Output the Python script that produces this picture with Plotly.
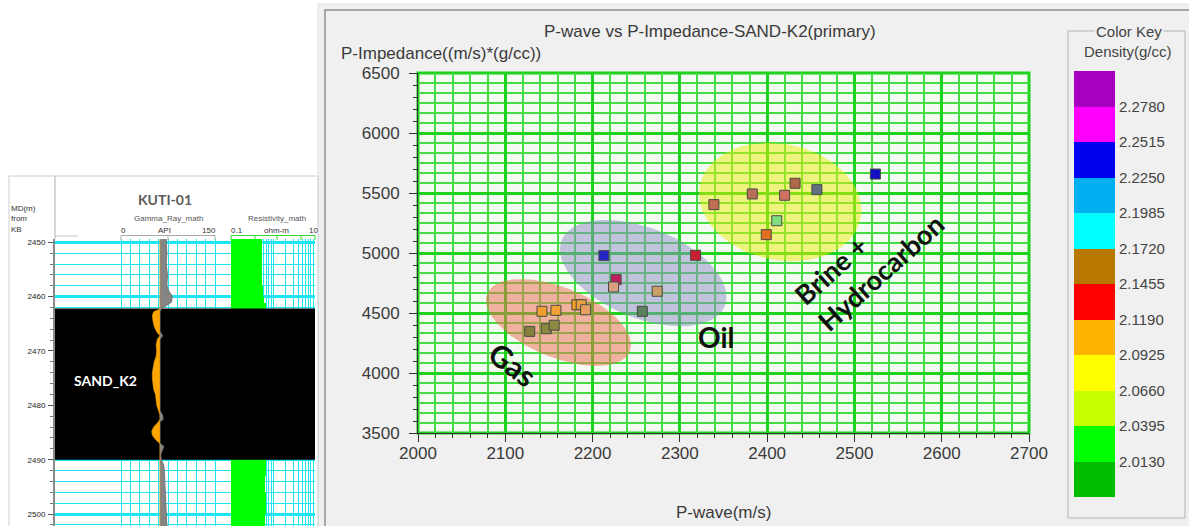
import numpy as np
import plotly.graph_objects as go

W, H = 1189, 526

# ======================= DATA =======================
# --- crossplot: P-wave (m/s) vs P-Impedance ((m/s)*(g/cc)), SAND_K2 samples ---
pwave_ms = [2128, 2147, 2156, 2142, 2158, 2182, 2187, 2192,
            2213, 2227, 2224, 2274, 2257, 2318,
            2339, 2383, 2420, 2432, 2457, 2411, 2399, 2524]
p_impedance = [4347, 4369, 4398, 4514, 4522, 4569, 4569, 4527,
               4978, 4778, 4717, 4681, 4514, 4981,
               5403, 5492, 5481, 5581, 5528, 5269, 5153, 5658]
point_colors = ['#84803c', '#8a883e', '#8c8a40', '#f0a030', '#f2a234', '#f0a024', '#e8a040', '#e8a060',
                '#2424c4', '#c02060', '#d8a080', '#c8a068', '#5a8060', '#c82030',
                '#c07050', '#b87058', '#d07060', '#b06848', '#607080', '#80e080', '#e07020', '#1010c0']

x_range = [2000, 2700]
y_range = [3500, 6500]
x_tick_vals = [2000, 2100, 2200, 2300, 2400, 2500, 2600, 2700]
y_tick_vals = [3500, 4000, 4500, 5000, 5500, 6000, 6500]

# --- interpretation zones (centre in data units) ---
zone_names = ['Gas', 'Oil', 'Brine +<br>Hydrocarbon']
zone_center_pwave = [2161, 2258, 2415]
zone_center_pimp = [4421, 4833, 5425]
zone_label_pwave = [2109, 2341, 2517]
zone_label_pimp = [4075, 4300, 4950]

# --- colour key (density g/cc), bottom -> top ---
key_labels = ['2.0130', '2.0395', '2.0660', '2.0925', '2.1190', '2.1455',
              '2.1720', '2.1985', '2.2250', '2.2515', '2.2780']
key_colors = ['#00bb00', '#00ff00', '#c8ff00', '#ffff00', '#ffb400', '#ff0000',
              '#b87800', '#00ffff', '#00b0f0', '#0000f0', '#ff00ff', '#a800c0']

# --- well log KUTI-01 ---
well_name = 'KUTI-01'
sand_name = 'SAND_K2'
sand_top, sand_base = 2462.2, 2490.0
depth_top, depth_bottom = 2449.4, 2502.2
depth_ticks = [2450, 2460, 2470, 2480, 2490, 2500]

gr_depth = [2449.4, 2452, 2454, 2456, 2458, 2459, 2460, 2461, 2461.8, 2462.3,
            2462.8, 2463.5, 2464.5, 2465.5, 2466.5, 2467.2, 2467.8, 2469, 2470, 2471,
            2472, 2473, 2474, 2475, 2476, 2477, 2478, 2479, 2480, 2481,
            2481.8, 2482.5, 2483, 2484, 2484.8, 2485.5, 2486.3, 2487, 2487.6, 2488.3,
            2489, 2490, 2491, 2492, 2494, 2496, 2498, 2500, 2502.2]
gr_api = [72, 73, 72, 74, 73, 76, 82, 80, 70, 63,
          52, 50, 51, 53, 57, 66, 58, 56, 57, 56,
          53, 51, 50, 50, 51, 52, 55, 56, 57, 60,
          66, 67, 60, 52, 49, 50, 55, 62, 68, 65,
          63, 64, 68, 69, 70, 71, 72, 73, 73]
gr_cutoff = 62

res_top = [2449.4, 2452, 2455, 2458, 2460, 2461.2, 2462.2, 2462.6, 2462.9, 2463.6,
           2465.5, 2466.0, 2468.0, 2469.0, 2469.8, 2470.3, 2472.4, 2473.3, 2474.5, 2475.4,
           2475.9, 2477.2, 2479.6, 2480.3, 2481.5, 2483.8, 2485.1, 2487.0, 2490.0, 2493.0,
           2496.0, 2500.0]
res_ohmm = [0.54, 0.55, 0.54, 0.57, 0.62, 0.70, 10, 10, 1.5, 8,
            5, 1.25, 7, 6.8, 5.5, 1.4, 7.5, 7, 7.5, 5.5,
            1.3, 8, 5, 1.25, 0.93, 4.8, 0.85, 0.75, 0.68, 0.66,
            0.68, 0.66]
res_class = ['green', 'green', 'green', 'green', 'green', 'green', 'purple', 'magenta', 'green', 'orange',
             'yellow', 'green', 'red', 'orange', 'yellow', 'green', 'red', 'orange', 'red', 'yellow',
             'green', 'red', 'yellow', 'green', 'green', 'yellow', 'green', 'green', 'green', 'green',
             'green', 'green']

# ======================= STYLE / LAYOUT =======================
class_color = {'green': '#00ff00', 'yellow': '#ffff00', 'orange': '#ffb400',
               'red': '#ff0000', 'magenta': '#ff00ff', 'purple': '#a800c0'}
zone_style = [dict(a=77, b=35, ang=22, fill='rgba(237,110,83,0.52)'),
              dict(a=88, b=45, ang=22, fill='rgba(140,140,195,0.5)'),
              dict(a=82, b=58, ang=12, fill='rgba(232,236,10,0.5)')]
zone_font = [dict(size=30, ang=37, align='center'), dict(size=28, ang=0, align='center'),
             dict(size=27, ang=-42, align='left')]

TICKFONT = dict(family='Liberation Sans, Arial', size=17, color='#3a3a3a')
LABFONT = 'Lato, Open Sans'
GRID_MAJ = '#1fd21f'
GRID_MIN = '#45dc45'
CYAN = '#19e6f5'

# crossplot area in pixels
PX0, PX1, PY0, PY1 = 418, 1029, 73, 433
# key area
KX0, KX1, KY0, KY1 = 1074, 1115, 71, 497
# log tracks
TR0, TR1, TR2 = 55, 231, 315
LOG_TOP = 239
GR_PX0, GR_PX150 = 121, 215


def fx(x):
    return x / W


def fy(y):
    return 1 - y / H


fig = go.Figure()

# ---------- crossplot: zones ----------
kx = (PX1 - PX0) / (x_range[1] - x_range[0])
ky = (PY1 - PY0) / (y_range[1] - y_range[0])
t = np.linspace(0, 2 * np.pi, 120)
for cx, cy, st in zip(zone_center_pwave, zone_center_pimp, zone_style):
    th = np.radians(st['ang'])
    u, v = st['a'] * np.cos(t), st['b'] * np.sin(t)
    dx = u * np.cos(th) - v * np.sin(th)
    dy = u * np.sin(th) + v * np.cos(th)
    fig.add_trace(go.Scatter(x=cx + dx / kx, y=cy - dy / ky, mode='lines', fill='toself',
                             fillcolor=st['fill'], line=dict(width=0), hoverinfo='skip',
                             xaxis='x', yaxis='y', showlegend=False))

# ---------- crossplot: points ----------
fig.add_trace(go.Scatter(x=pwave_ms, y=p_impedance, mode='markers', xaxis='x', yaxis='y2',
                         marker=dict(symbol='square', size=10, color=point_colors,
                                     line=dict(color='#4a4a4a', width=1)),
                         showlegend=False))

# ---------- colour key ----------
nk = len(key_colors)
cs = []
for i, c in enumerate(key_colors):
    cs += [[i / nk, c], [(i + 1) / nk, c]]
fig.add_trace(go.Heatmap(z=[[i] for i in range(nk)], x=[0], y=list(range(nk)),
                         colorscale=cs, zmin=-0.5, zmax=nk - 0.5, showscale=False,
                         xaxis='x3', yaxis='y3', hoverinfo='skip'))

# ---------- well log: sand zone black ----------
gr_lo = (TR0 - GR_PX0) / (GR_PX150 - GR_PX0) * 150
gr_hi = (TR1 - GR_PX0) / (GR_PX150 - GR_PX0) * 150
fig.add_trace(go.Scatter(x=[gr_lo, gr_hi, gr_hi, gr_lo], y=[sand_top, sand_top, sand_base, sand_base],
                         fill='toself', fillcolor='black', mode='lines', line=dict(width=0),
                         xaxis='x4', yaxis='y4', hoverinfo='skip', showlegend=False))
fig.add_trace(go.Scatter(x=[0.1, 10, 10, 0.1], y=[sand_top, sand_top, sand_base, sand_base],
                         fill='toself', fillcolor='black', mode='lines', line=dict(width=0),
                         xaxis='x5', yaxis='y4', hoverinfo='skip', showlegend=False))

# ---------- GR curve ----------
gr_arr = np.array(gr_api, dtype=float)
base = [gr_cutoff] * len(gr_depth)
fig.add_trace(go.Scatter(x=base, y=gr_depth, mode='lines', line=dict(width=0), xaxis='x4', yaxis='y4',
                         hoverinfo='skip', showlegend=False))
fig.add_trace(go.Scatter(x=np.maximum(gr_arr, gr_cutoff), y=gr_depth, mode='lines', fill='tonextx',
                         fillcolor='#858585', line=dict(width=1.2, color='#7a7a7a'),
                         xaxis='x4', yaxis='y4', hoverinfo='skip', showlegend=False))
fig.add_trace(go.Scatter(x=base, y=gr_depth, mode='lines', line=dict(width=0), xaxis='x4', yaxis='y4',
                         hoverinfo='skip', showlegend=False))
fig.add_trace(go.Scatter(x=np.minimum(gr_arr, gr_cutoff), y=gr_depth, mode='lines', fill='tonextx',
                         fillcolor='#ffa500', line=dict(width=0.6, color='#e89a00'),
                         xaxis='x4', yaxis='y4', hoverinfo='skip', showlegend=False))

# ---------- Resistivity fill ----------
res_bottom = res_top[1:] + [depth_bottom]
fig.add_trace(go.Bar(orientation='h',
                     y=[(a + b) / 2 for a, b in zip(res_top, res_bottom)],
                     width=[b - a for a, b in zip(res_top, res_bottom)],
                     x=[r - 0.1 for r in res_ohmm], base=0.1,
                     marker=dict(color=[class_color[c] for c in res_class], line=dict(width=0)),
                     xaxis='x5', yaxis='y4', hoverinfo='skip', showlegend=False))

# ======================= AXES =======================
layout = dict(
    width=W, height=H, margin=dict(l=0, r=0, t=0, b=0, pad=0, autoexpand=False),
    paper_bgcolor='white', plot_bgcolor='rgba(0,0,0,0)', showlegend=False,
    xaxis=dict(domain=[fx(PX0), fx(PX1)], range=x_range, anchor='y', automargin=False,
               tickmode='array', tickvals=x_tick_vals, ticks='outside', ticklen=8, tickcolor='#333',
               tickfont=TICKFONT, ticklabelstandoff=-3,
               showgrid=True, gridcolor=GRID_MAJ, gridwidth=3,
               minor=dict(dtick=20, tick0=2000, showgrid=True, gridcolor=GRID_MIN, gridwidth=1.5,
                          ticks='outside', ticklen=4, tickcolor='#333'),
               showline=True, linecolor='#333', linewidth=1, zeroline=False),
    yaxis=dict(domain=[fy(PY1), fy(PY0)], range=y_range, anchor='x', automargin=False,
               tickmode='array', tickvals=y_tick_vals, ticks='outside', ticklen=8, tickcolor='#333',
               tickfont=TICKFONT, ticklabelstandoff=6,
               showgrid=True, gridcolor=GRID_MAJ, gridwidth=3,
               minor=dict(dtick=500 / 6, tick0=3500, showgrid=True, gridcolor=GRID_MIN, gridwidth=1.5),
               showline=True, linecolor='#333', linewidth=1, zeroline=False),
    yaxis2=dict(overlaying='y', anchor='x', range=y_range, side='left', showgrid=False, automargin=False,
                showticklabels=False, ticks='', zeroline=False,
                minor=dict(dtick=100, tick0=3500, ticks='outside', ticklen=4, tickcolor='#333')),
    xaxis3=dict(domain=[fx(KX0), fx(KX1)], range=[-0.5, 0.5], anchor='y3', visible=False, automargin=False),
    yaxis3=dict(domain=[fy(KY1), fy(KY0)], range=[-0.5, nk - 0.5], anchor='x3', side='right', automargin=False,
                tickmode='array', tickvals=[i + 0.5 for i in range(len(key_labels))], ticktext=key_labels,
                ticks='', showgrid=False, zeroline=False, showline=False,
                tickfont=dict(family='Liberation Sans, Arial', size=15, color='#444'), ticklabelstandoff=3),
    xaxis4=dict(domain=[fx(TR0), fx(TR1)], range=[gr_lo, gr_hi], anchor='y4', automargin=False,
                tickmode='array', tickvals=list(range(0, 151, 15)), showticklabels=False, ticks='',
                showgrid=True, gridcolor=CYAN, gridwidth=1, zeroline=False, showline=False),
    xaxis5=dict(domain=[fx(TR1), fx(TR2)], type='log', range=[-1, 1], anchor='y4', automargin=False,
                tickmode='array',
                tickvals=[0.1, 0.2, 0.3, 0.4, 0.5, 0.6, 0.7, 0.8, 0.9, 1, 2, 3, 4, 5, 6, 7, 8, 9, 10],
                showticklabels=False, ticks='', showgrid=True, gridcolor=CYAN, gridwidth=1,
                zeroline=False, showline=False),
    yaxis4=dict(domain=[0, fy(LOG_TOP)], range=[depth_bottom, depth_top], anchor='x4', automargin=False,
                tickmode='array', tickvals=depth_ticks, ticks='outside', ticklen=5, tickcolor='#555',
                tickfont=dict(family='Liberation Sans, Arial', size=8, color='#222'), ticklabelstandoff=1,
                showgrid=True, gridcolor=CYAN, gridwidth=2.5,
                minor=dict(dtick=2, tick0=2450, showgrid=True, gridcolor=CYAN, gridwidth=1,
                           ticks='outside', ticklen=3, tickcolor='#777'),
                showline=True, linecolor='#8a8a8a', linewidth=2, zeroline=False),
    bargap=0,
)
fig.update_layout(**layout)

# ======================= SHAPES =======================
shapes = []
# crossplot panel background and frames
shapes.append(dict(type='rect', xref='paper', yref='paper', x0=fx(318), x1=fx(1195), y0=fy(530), y1=fy(4),
                   fillcolor='#f0f0f0', line=dict(color='#dedede', width=1), layer='below'))
shapes.append(dict(type='rect', xref='paper', yref='paper', x0=fx(325), x1=fx(1195), y0=fy(530), y1=fy(10),
                   fillcolor='rgba(0,0,0,0)', line=dict(color='#8e8e8e', width=1.5), layer='below'))
# plot area background
shapes.append(dict(type='rect', xref='x domain', yref='y domain', x0=0, x1=1, y0=0, y1=1,
                   fillcolor='#f4fbf2', line=dict(width=0), layer='below'))
# plot area green frame
shapes.append(dict(type='rect', xref='x domain', yref='y domain', x0=0, x1=1, y0=0, y1=1,
                   fillcolor='rgba(0,0,0,0)', line=dict(color=GRID_MAJ, width=3), layer='below'))
# colour key group box
shapes.append(dict(type='rect', xref='paper', yref='paper', x0=fx(1068), x1=fx(1185), y0=fy(518), y1=fy(31),
                   line=dict(color='#b4b4b4', width=1), layer='below'))
# log panel background + borders
shapes.append(dict(type='rect', xref='paper', yref='paper', x0=fx(9), x1=fx(318), y0=fy(528), y1=fy(176),
                   fillcolor='white', line=dict(color='#cfcfcf', width=1), layer='below'))
shapes.append(dict(type='line', xref='paper', yref='paper', x0=fx(55), x1=fx(55), y0=fy(239), y1=fy(176),
                   line=dict(color='#c8c8c8', width=1.5), layer='below'))
shapes.append(dict(type='line', xref='paper', yref='paper', x0=fx(55), x1=fx(78), y0=fy(236), y1=fy(236),
                   line=dict(color='#c8c8c8', width=1), layer='below'))
# GR scale bracket
shapes.append(dict(type='line', xref='paper', yref='paper', x0=fx(GR_PX0), x1=fx(GR_PX150), y0=fy(235.5),
                   y1=fy(235.5), line=dict(color='#aaaaaa', width=1)))
for xx in (GR_PX0, 168, GR_PX150):
    shapes.append(dict(type='line', xref='paper', yref='paper', x0=fx(xx), x1=fx(xx), y0=fy(240),
                       y1=fy(235.5), line=dict(color='#aaaaaa', width=1)))
# Resistivity scale bracket
shapes.append(dict(type='line', xref='paper', yref='paper', x0=fx(TR1), x1=fx(TR2), y0=fy(235.5),
                   y1=fy(235.5), line=dict(color='#33dd33', width=1)))
for xx in (TR1, 255, 277, 301, TR2):
    shapes.append(dict(type='line', xref='paper', yref='paper', x0=fx(xx), x1=fx(xx), y0=fy(240),
                       y1=fy(235.5), line=dict(color='#33dd33', width=1)))
fig.update_layout(shapes=shapes)

# ======================= TEXT =======================
ann = []


def A(text, x, y, size=17, color='#3a3a3a', family='Liberation Sans, Arial', xanchor='center',
      bold=False, **kw):
    if bold:
        text = '<b>' + text + '</b>'
    ann.append(dict(text=text, x=fx(x), y=fy(y), xref='paper', yref='paper', showarrow=False,
                    xanchor=xanchor, yanchor='middle', font=dict(size=size, color=color, family=family), **kw))


A('P-wave vs P-Impedance-SAND-K2(primary)', 710, 32)
A('P-Impedance((m/s)*(g/cc))', 339, 53, xanchor='left')
A('P-wave(m/s)', 723, 512)
A('Color Key', 1129, 31, size=15, color='#444', bgcolor='#f0f0f0')
A('Density(g/cc)', 1128, 52, size=15, color='#444')

# zone labels
for name, zx, zy, zf in zip(zone_names, zone_label_pwave, zone_label_pimp, zone_font):
    ann.append(dict(text='<b>' + name + '</b>', x=zx, y=zy, xref='x', yref='y', showarrow=False,
                    textangle=zf['ang'], align=zf['align'],
                    font=dict(size=zf['size'], color='#111', family=LABFONT)))

# log header
A(well_name, 165, 199, size=14, color='#5a5a5a', family=LABFONT, bold=True)
A('MD(m)', 9, 208, size=8, color='#333', xanchor='left')
A('from', 9, 219, size=8, color='#333', xanchor='left')
A('KB', 9, 229, size=8, color='#333', xanchor='left')
A('Gamma_Ray_math', 168, 218, size=8, color='#555')
A('0', 123, 230, size=8, color='#333')
A('API', 164, 230, size=8, color='#333')
A('150', 209, 230, size=8, color='#333')
A('Resistivity_math', 277, 218, size=8, color='#555')
A('0.1', 237, 230, size=8, color='#333')
A('ohm-m', 276, 230, size=8, color='#333')
A('10', 313, 230, size=8, color='#333')
A(sand_name, 105, 380, size=14, color='white', family=LABFONT, bold=True)

fig.update_layout(annotations=ann)

fig.write_html('out.html', config={'displayModeBar': False},
               post_script="document.body.style.margin='0px';document.body.style.overflow='hidden';")
